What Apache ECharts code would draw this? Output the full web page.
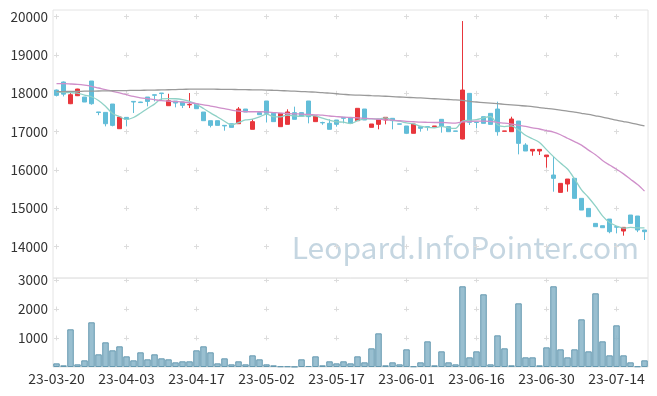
<!DOCTYPE html>
<html><head><meta charset="utf-8">
<script src="https://cdn.jsdelivr.net/npm/echarts@6/dist/echarts.min.js"></script>
<style>html,body{margin:0;padding:0;background:#fff}#c{width:657px;height:396px}</style>
</head><body><div id="c"></div><script>
const dates = ['23-03-20','23-03-21','23-03-22','23-03-23','23-03-24','23-03-27','23-03-28','23-03-29','23-03-30','23-03-31',
'23-04-03','23-04-04','23-04-05','23-04-06','23-04-07','23-04-10','23-04-11','23-04-12','23-04-13','23-04-14',
'23-04-17','23-04-18','23-04-19','23-04-20','23-04-21','23-04-24','23-04-25','23-04-26','23-04-27','23-04-28',
'23-05-02','23-05-03','23-05-04','23-05-08','23-05-09','23-05-10','23-05-11','23-05-12','23-05-15','23-05-16',
'23-05-17','23-05-18','23-05-19','23-05-22','23-05-23','23-05-24','23-05-25','23-05-26','23-05-30','23-05-31',
'23-06-01','23-06-02','23-06-05','23-06-07','23-06-08','23-06-09','23-06-12','23-06-13','23-06-14','23-06-15',
'23-06-16','23-06-19','23-06-20','23-06-21','23-06-22','23-06-23','23-06-26','23-06-27','23-06-28','23-06-29',
'23-06-30','23-07-03','23-07-04','23-07-05','23-07-06','23-07-07','23-07-10','23-07-11','23-07-12','23-07-13',
'23-07-14','23-07-17','23-07-18','23-07-19','23-07-20'];
const openV = [18087,18296,17730,17939,17904,18322,17515,17504,17722,17078,
17374,17791,17774,17904,17965,18009,17678,17800,17774,17700,
17722,17513,17287,17287,17165,17208,17208,17591,17062,17497,
17801,17479,17131,17192,17497,17497,17801,17262,17240,17218,
17305,17375,17366,17288,17592,17114,17192,17305,17349,17205,
17149,16958,17131,17131,17131,17323,17131,17020,16809,18000,
17250,17391,17478,17591,17010,17000,17278,16652,16496,16496,
16348,15870,15417,15635,15783,15261,14999,14608,14547,14721,
14522,14408,14826,14800,14435];
const closeV = [17948,17980,17965,18113,17774,17730,17500,17208,17165,17382,
17322,17774,17760,17791,17950,17995,17809,17748,17687,17710,
17600,17287,17165,17165,17150,17113,17591,17513,17262,17444,
17479,17262,17479,17514,17323,17410,17392,17410,17230,17062,
17192,17349,17218,17610,17305,17201,17323,17375,17288,17195,
16958,17201,17088,17120,17149,17149,17000,17010,18087,17244,
17240,17218,17191,17000,17020,17331,16696,16496,16539,16539,
16391,15783,15652,15765,15261,14956,14782,14522,14495,14391,
14510,14504,14608,14435,14391];
const lowV = [17920,17920,17720,17930,17774,17704,17430,17139,17140,17070,
17139,17487,17755,17661,17791,17809,17670,17635,17617,17617,
17600,17287,17113,17165,17026,17113,17208,17513,17062,17440,
17240,17262,17131,17192,17323,17410,17218,17262,17180,17062,
17131,17218,17218,17288,17305,17114,17062,17192,17062,17195,
16958,16958,17001,17027,17131,16975,17000,17010,16800,17174,
17087,17218,17191,16896,17010,17000,16409,16496,16374,16391,
16061,15435,15417,15435,15261,14956,14782,14522,14495,14350,
14348,14287,14608,14380,14174];
const highV = [18100,18310,18010,18120,17904,18322,17515,17504,17722,17390,
17374,17791,17780,17904,17965,18009,17990,17800,17774,18009,
17722,17513,17287,17287,17165,17208,17643,17591,17330,17500,
17801,17510,17479,17584,17653,17497,17801,17410,17260,17323,
17305,17375,17366,17610,17592,17201,17323,17375,17349,17205,
17149,17201,17131,17131,17149,17323,17131,17020,19887,18000,
17250,17391,17478,17783,17020,17391,17278,16700,16539,16539,
16391,16348,15652,15765,15783,15261,14999,14608,14547,14721,
14522,14504,14826,14800,14435];
const volume = [126,58,1300,92,230,1541,437,851,575,713,
368,230,506,265,437,299,265,161,196,196,
575,713,506,126,299,92,196,92,402,265,
92,58,23,23,10,265,35,368,58,196,
126,196,126,368,161,644,1161,58,161,92,
609,23,161,885,58,540,161,92,2783,333,
540,2507,92,1092,644,58,2196,333,333,58,
678,2783,609,333,609,1644,540,2541,885,402,
1437,402,161,23,230];
const ma5 = [18035,18026,18017,18009,17956,17912,17816,17665,17475,17397,
17315,17370,17481,17606,17719,17854,17861,17859,17838,17790,
17711,17606,17490,17385,17273,17176,17237,17306,17326,17385,
17458,17392,17385,17436,17411,17398,17424,17410,17353,17301,
17257,17249,17210,17286,17335,17337,17331,17363,17298,17276,
17228,17203,17146,17112,17103,17141,17101,17086,17279,17298,
17316,17360,17396,17179,17134,17152,17048,16909,16816,16720,
16532,16350,16181,16026,15770,15483,15283,15057,14803,14629,
14540,14484,14502,14490,14490];
const ma20 = [18252,18252,18245,18235,18215,18185,18140,18100,18055,18010,
17965,17920,17885,17860,17835,17810,17795,17785,17775,17755,
17735,17700,17670,17635,17600,17565,17535,17525,17520,17520,
17515,17500,17485,17475,17465,17460,17450,17440,17430,17410,
17395,17380,17370,17360,17350,17340,17325,17310,17300,17285,
17270,17260,17250,17245,17240,17240,17230,17225,17255,17265,
17275,17275,17270,17240,17225,17200,17170,17140,17100,17070,
17030,16990,16920,16830,16740,16650,16520,16400,16250,16130,
16020,15900,15760,15620,15450];
const ma60 = [18044,18047,18050,18053,18056,18059,18062,18065,18068,18071,
18074,18077,18080,18083,18086,18090,18095,18100,18105,18110,
18113,18113,18110,18108,18105,18102,18099,18096,18093,18090,
18087,18080,18072,18064,18056,18048,18040,18030,18020,18005,
17990,17975,17960,17955,17950,17940,17932,17925,17915,17905,
17896,17888,17880,17870,17860,17850,17840,17830,17815,17790,
17775,17760,17745,17730,17715,17700,17685,17670,17655,17630,
17610,17590,17565,17535,17510,17480,17450,17415,17380,17340,
17300,17265,17230,17190,17150];
const priceTicks = [14000,15000,16000,17000,18000,19000,20000];
const volumeTicks = [1000,2000,3000];

const candles = dates.map((d, i) => [openV[i], closeV[i], lowV[i], highV[i]]);
const UP = '#e8363c', DOWN = '#62bdd8';
const FONT = '"Noto Sans CJK KR", "Noto Sans", sans-serif';
const plain = v => String(v);
const gridDot = '#dcdcdc';

const chart = echarts.init(document.getElementById('c'), null, {renderer:'canvas'});
chart.setOption({
  animation:false,
  grid:[
    {left:53, right:9, top:10, height:268, show:true, borderColor:'#e4e4e4', borderWidth:1, backgroundColor:'transparent'},
    {left:53, right:9, top:278, height:89, show:true, borderColor:'#e4e4e4', borderWidth:1, backgroundColor:'transparent'}
  ],
  xAxis:[
    {type:'category', gridIndex:0, data:dates, boundaryGap:true,
     axisLine:{show:false}, axisTick:{show:false}, axisLabel:{show:false},
     splitLine:{show:true, interval:9, alignWithLabel:true, lineStyle:{color:gridDot, width:1, type:[5,33.33], dashOffset:34.13}}},
    {type:'category', gridIndex:1, data:dates, boundaryGap:true,
     axisLine:{show:false}, axisTick:{show:false},
     axisLabel:{interval:9, margin:5, color:'#333', fontSize:14, fontFamily:FONT},
     splitLine:{show:true, interval:9, alignWithLabel:true, lineStyle:{color:gridDot, width:1, type:[5,24], dashOffset:0.5}}}
  ],
  yAxis:[
    {type:'value', gridIndex:0, min:13183, max:20175,
     axisLine:{show:false}, axisTick:{show:false, customValues:priceTicks},
     axisLabel:{customValues:priceTicks, margin:5, color:'#333', fontSize:13.5, fontFamily:FONT, formatter:plain},
     splitLine:{show:true, lineStyle:{color:gridDot, width:1, type:[5,65], dashOffset:69}}},
    {type:'value', gridIndex:1, min:0, max:3069,
     axisLine:{show:false}, axisTick:{show:false, customValues:volumeTicks},
     axisLabel:{customValues:volumeTicks, margin:5, color:'#333', fontSize:13.5, fontFamily:FONT, formatter:plain},
     splitLine:{show:true, lineStyle:{color:gridDot, width:1, type:[5,65], dashOffset:69}}}
  ],
  graphic:[
    {type:'text', right:18, top:233, z:0, silent:true,
     style:{text:'Leopard.InfoPointer.com', fill:'#c5d6e1', font:'30px ' + FONT}}
  ],
  series:[
    {type:'candlestick', xAxisIndex:0, yAxisIndex:0, data:candles, barWidth:5, z:3,
     itemStyle:{color:UP, color0:DOWN, borderColor:UP, borderColor0:DOWN, borderWidth:1}},
    {type:'line', name:'MA5', xAxisIndex:0, yAxisIndex:0, data:ma5, showSymbol:false, smooth:0.3, z:4,
     lineStyle:{color:'#8fd1c6', width:1.3}},
    {type:'line', name:'MA20', xAxisIndex:0, yAxisIndex:0, data:ma20, showSymbol:false, smooth:0.3, z:4,
     lineStyle:{color:'#cf8fca', width:1.3}},
    {type:'line', name:'MA60', xAxisIndex:0, yAxisIndex:0, data:ma60, showSymbol:false, smooth:0.3, z:4,
     lineStyle:{color:'#9a9a9a', width:1.3}},
    {type:'bar', xAxisIndex:1, yAxisIndex:1, data:volume, barWidth:6.5, z:3,
     itemStyle:{color:'rgba(135,180,200,0.85)', borderColor:'#6599b0', borderWidth:1}}
  ]
});
</script></body></html>
